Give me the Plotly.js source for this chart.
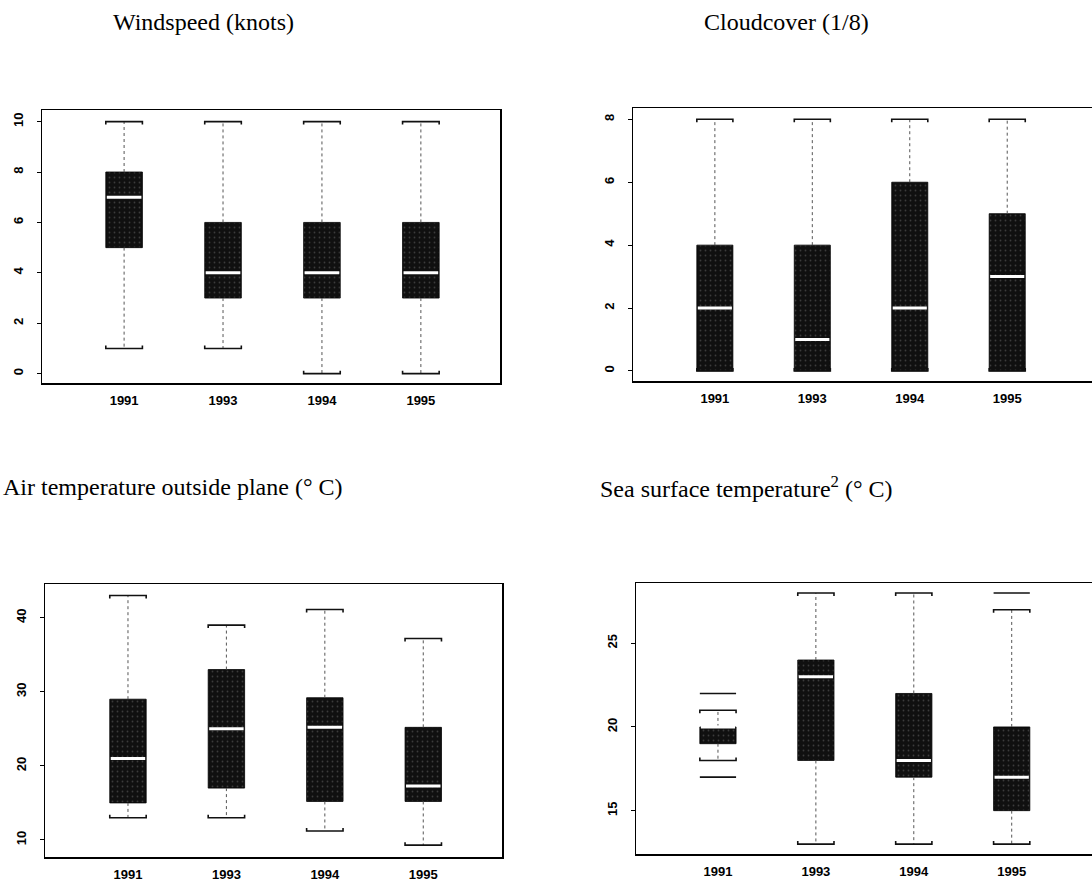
<!DOCTYPE html>
<html>
<head>
<meta charset="utf-8">
<script src="https://cdn.plot.ly/plotly-3.0.1.min.js"></script>
<style>
  html, body { margin: 0; padding: 0; background: #fff; }
  #chart { width: 1092px; height: 883px; }
</style>
</head>
<body>
<div id="chart"></div>
<script>
// ---------------- data ----------------
const years = ['1991', '1993', '1994', '1995'];

const windLow  = [1, 1, 0, 0];
const windQ1   = [5, 3, 3, 3];
const windMed  = [7, 4, 4, 4];
const windQ3   = [8, 6, 6, 6];
const windHigh = [10, 10, 10, 10];

const cloudLow  = [0, 0, 0, 0];
const cloudQ1   = [0, 0, 0, 0];
const cloudMed  = [2, 1, 2, 3];
const cloudQ3   = [4, 4, 6, 5];
const cloudHigh = [8, 8, 8, 8];

const airLow  = [13, 13, 11.2, 9.3];
const airQ1   = [15, 17, 15.2, 15.2];
const airMed  = [21, 25, 25.2, 17.3];
const airQ3   = [29, 33, 29.2, 25.2];
const airHigh = [43, 39, 41.1, 37.2];

const sstLow  = [18, 13, 13, 13];
const sstQ1   = [19, 18, 17, 15];
const sstMed  = [20, 23, 18, 17];
const sstQ3   = [20, 24, 22, 20];
const sstHigh = [21, 28, 28, 27];
const sstOutYear = ['1991', '1991', '1995'];
const sstOutVal  = [17, 22, 28];

const windTicks  = [0, 2, 4, 6, 8, 10];
const cloudTicks = [0, 2, 4, 6, 8];
const airTicks   = [10, 20, 30, 40];
const sstTicks   = [15, 20, 25];

const titles = ['Windspeed (knots)', 'Cloudcover (1/8)',
                'Air temperature outside plane (° C)', 'Sea surface temperature<sup>2</sup> (° C)'];

// ---------------- layout helpers ----------------
const W = 1092, H = 883;
const BW = 0.37; // box width in category units
function pos(y) { return years.indexOf(y) + 1; }

const panels = [
  {low: windLow,  q1: windQ1,  med: windMed,  q3: windQ3,  high: windHigh,
   px: [42, 500], py: [110, 383], yr: [-0.37, 10.46], xr: [0.17, 4.80], ticks: windTicks, mirror: true},
  {low: cloudLow, q1: cloudQ1, med: cloudMed, q3: cloudQ3, high: cloudHigh,
   px: [633, 1092], py: [108, 381], yr: [-0.32, 8.36], xr: [0.16, 4.87], ticks: cloudTicks, mirror: false},
  {low: airLow,   q1: airQ1,   med: airMed,   q3: airQ3,   high: airHigh,
   px: [45, 502], py: [584, 857], yr: [7.7, 44.55], xr: [0.157, 4.80], ticks: airTicks, mirror: true},
  {low: sstLow,   q1: sstQ1,   med: sstMed,   q3: sstQ3,   high: sstHigh,
   px: [636, 1092], py: [583, 854], yr: [12.41, 28.6], xr: [0.163, 4.82], ticks: sstTicks, mirror: false,
   outYear: sstOutYear, outVal: sstOutVal}
];

const traces = [];
const layout = {
  width: W, height: H,
  margin: {l: 0, r: 0, t: 0, b: 0},
  paper_bgcolor: '#ffffff',
  plot_bgcolor: 'rgba(0,0,0,0)',
  showlegend: false,
  barmode: 'overlay',
  font: {family: 'Liberation Sans, Arial, sans-serif', color: '#000'},
  annotations: [],
  shapes: []
};

const tickFont = {family: 'Liberation Sans, Arial, sans-serif', size: 13, weight: 'bold', color: '#000'};

panels.forEach((p, i) => {
  const n = i === 0 ? '' : String(i + 1);
  const xa = 'x' + n, ya = 'y' + n;
  const xs = years.map(pos);
  const pxPerUnit = (p.py[1] - p.py[0]) / (p.yr[1] - p.yr[0]);
  const tick = 3 / pxPerUnit; // small bracket tick at cap ends

  // whiskers (dotted)
  const wx = [], wy = [];
  xs.forEach((x, k) => {
    wx.push(x, x, null, x, x, null);
    wy.push(p.q3[k], p.high[k], null, p.q1[k], p.low[k], null);
  });
  traces.push({type: 'scatter', mode: 'lines', x: wx, y: wy, xaxis: xa, yaxis: ya,
    line: {color: '#555', width: 1, dash: 'dot'}, hoverinfo: 'skip'});

  // caps (solid, with small bracket ends)
  const cx = [], cy = [];
  xs.forEach((x, k) => {
    cx.push(x - BW / 2, x - BW / 2, x + BW / 2, x + BW / 2, null);
    cy.push(p.high[k] - tick, p.high[k], p.high[k], p.high[k] - tick, null);
    cx.push(x - BW / 2, x - BW / 2, x + BW / 2, x + BW / 2, null);
    cy.push(p.low[k] + tick, p.low[k], p.low[k], p.low[k] + tick, null);
  });
  traces.push({type: 'scatter', mode: 'lines', x: cx, y: cy, xaxis: xa, yaxis: ya,
    line: {color: '#111', width: 1.6}, hoverinfo: 'skip'});

  // outliers drawn as horizontal lines
  if (p.outYear) {
    const ox = [], oy = [];
    p.outYear.forEach((yr, k) => {
      const x = pos(yr);
      ox.push(x - BW / 2, x + BW / 2, null);
      oy.push(p.outVal[k], p.outVal[k], null);
    });
    traces.push({type: 'scatter', mode: 'lines', x: ox, y: oy, xaxis: xa, yaxis: ya,
      line: {color: '#111', width: 1.6}, hoverinfo: 'skip'});
  }

  // boxes
  traces.push({type: 'bar', x: xs, base: p.q1, y: xs.map((_, k) => p.q3[k] - p.q1[k]),
    width: BW, xaxis: xa, yaxis: ya,
    marker: {color: '#111', line: {color: '#000', width: 0.8},
      pattern: {shape: '.', fgcolor: '#3c3c3c', bgcolor: '#101010', size: 5, solidity: 0.1}},
    hoverinfo: 'skip'});

  // medians (white)
  const mx = [], my = [];
  xs.forEach((x, k) => {
    mx.push(x - BW / 2 + 0.01, x + BW / 2 - 0.01, null);
    my.push(p.med[k], p.med[k], null);
  });
  traces.push({type: 'scatter', mode: 'lines', x: mx, y: my, xaxis: xa, yaxis: ya,
    line: {color: '#ffffff', width: 3}, hoverinfo: 'skip'});

  layout['xaxis' + n] = {
    domain: [p.px[0] / W, p.px[1] / W], anchor: ya, range: p.xr,
    tickmode: 'array', tickvals: xs, ticktext: years,
    ticks: '', ticklabelstandoff: 5,
    tickfont: tickFont,
    showline: true, linecolor: '#000', linewidth: 1.5, mirror: true,
    showgrid: false, zeroline: false, fixedrange: true
  };
  layout['yaxis' + n] = {
    domain: [1 - p.py[1] / H, 1 - p.py[0] / H], anchor: xa, range: p.yr,
    tickmode: 'array', tickvals: p.ticks, ticktext: p.ticks.map(String),
    ticks: 'outside', ticklen: 4, tickwidth: 1, tickcolor: '#000',
    tickangle: -90, ticklabelstandoff: 8,
    tickfont: tickFont,
    showline: true, linecolor: '#000', linewidth: 1.5, mirror: p.mirror,
    showgrid: false, zeroline: false, fixedrange: true
  };
});

// titles
const titlePos = [[203, 22], [786, 22], [172, 487], [746, 487]];
titles.forEach((t, i) => {
  layout.annotations.push({
    text: t, xref: 'paper', yref: 'paper',
    x: titlePos[i][0] / W, y: 1 - titlePos[i][1] / H,
    xanchor: 'center', yanchor: 'middle', showarrow: false,
    font: {family: 'Liberation Serif, Times New Roman, serif', size: 24, color: '#000'}
  });
});

Plotly.newPlot('chart', traces, layout, {staticPlot: true, displayModeBar: false});
</script>
</body>
</html>
